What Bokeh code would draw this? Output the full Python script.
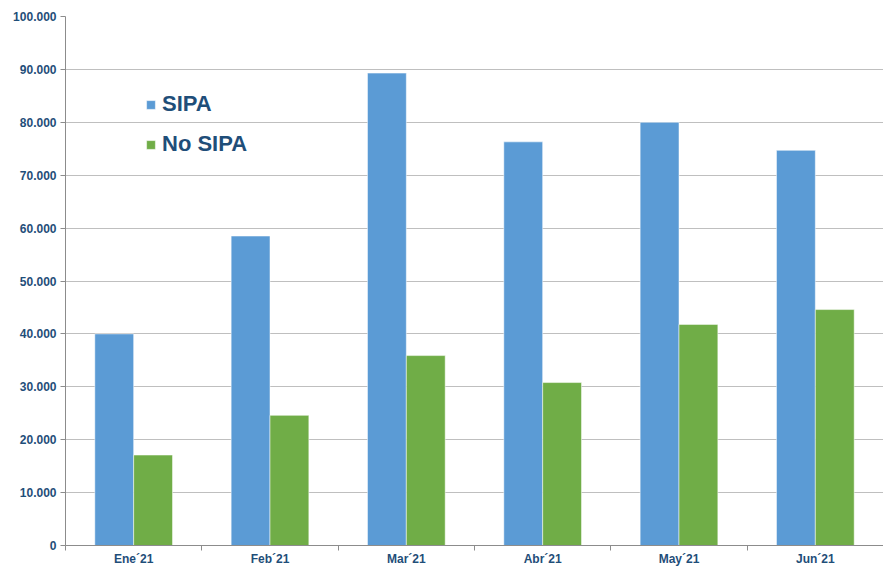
import numpy as np
from bokeh.plotting import figure
from bokeh.models import (ColumnDataSource, Range1d, FixedTicker, Legend, LegendItem,
                          CustomJSTickFormatter)
from bokeh.embed import file_html
from bokeh.resources import INLINE

months = ["Ene´21", "Feb´21", "Mar´21", "Abr´21", "May´21", "Jun´21"]
sipa = [40000, 58500, 89300, 76300, 80000, 74700]
no_sipa = [17100, 24600, 35900, 30800, 41800, 44600]
y_ticks = [0, 10000, 20000, 30000, 40000, 50000, 60000, 70000, 80000, 90000, 100000]

BLUE = "#5B9BD5"
GREEN = "#70AD47"
TXT = "#1F4E79"
FONT = "Liberation Sans"

idx = np.arange(len(months))
bw = 0.285
src = ColumnDataSource(dict(
    xb=idx + 0.5 - bw / 2, xg=idx + 0.5 + bw / 2, sipa=sipa, no_sipa=no_sipa))

p = figure(width=883, height=568, output_backend="svg", toolbar_location=None,
           x_range=Range1d(0, len(months)), y_range=Range1d(0, 100000),
           min_border_left=65, min_border_right=0, min_border_top=16, min_border_bottom=20)
p.outline_line_color = None
p.background_fill_color = "white"

rb = p.vbar(x="xb", top="sipa", width=bw, source=src, fill_color=BLUE,
            line_color="white", line_alpha=0.5, line_width=1)
rg = p.vbar(x="xg", top="no_sipa", width=bw, source=src, fill_color=GREEN,
            line_color="white", line_alpha=0.5, line_width=1)

# y axis
p.yaxis.ticker = FixedTicker(ticks=y_ticks)
p.yaxis.formatter = CustomJSTickFormatter(
    code="return tick.toFixed(0).replace(/\\B(?=(\\d{3})+(?!\\d))/g, '.');")
p.yaxis.axis_line_color = "#8c8c8c"
p.yaxis.major_tick_line_color = "#8c8c8c"
p.yaxis.major_tick_in = 0
p.yaxis.major_tick_out = 5
p.yaxis.minor_tick_line_color = None
p.yaxis.major_label_text_font = FONT
p.yaxis.major_label_text_font_style = "bold"
p.yaxis.major_label_text_font_size = "12px"
p.yaxis.major_label_text_color = TXT
p.yaxis.major_label_standoff = 4

# x axis: labels at category centres, ticks at boundaries
p.xaxis.ticker = FixedTicker(ticks=list(idx + 0.5), minor_ticks=list(range(len(months) + 1)))
p.xaxis.major_label_overrides = {float(i + 0.5): m for i, m in enumerate(months)}
p.xaxis.axis_line_color = "#8c8c8c"
p.xaxis.major_tick_line_color = None
p.xaxis.major_tick_in = 0
p.xaxis.major_tick_out = 0
p.xaxis.minor_tick_line_color = "#8c8c8c"
p.xaxis.minor_tick_in = 0
p.xaxis.minor_tick_out = 5
p.xaxis.major_label_text_font = FONT
p.xaxis.major_label_text_font_style = "bold"
p.xaxis.major_label_text_font_size = "12px"
p.xaxis.major_label_text_color = TXT
p.xaxis.major_label_standoff = 1

p.xgrid.grid_line_color = None
p.ygrid.grid_line_color = "#bfbfbf"
p.ygrid.grid_line_width = 1

legend = Legend(items=[LegendItem(label="SIPA", renderers=[rb]),
                       LegendItem(label="No SIPA", renderers=[rg])],
                location=(80, 388))
legend.background_fill_alpha = 0
legend.border_line_color = None
legend.label_text_font = FONT
legend.label_text_font_style = "bold"
legend.label_text_font_size = "22px"
legend.label_text_color = TXT
legend.glyph_width = 11
legend.glyph_height = 11
legend.label_standoff = 6
legend.spacing = 14
legend.padding = 0
legend.margin = 0
p.add_layout(legend, "center")

open("out.html", "w").write(file_html(p, INLINE))
